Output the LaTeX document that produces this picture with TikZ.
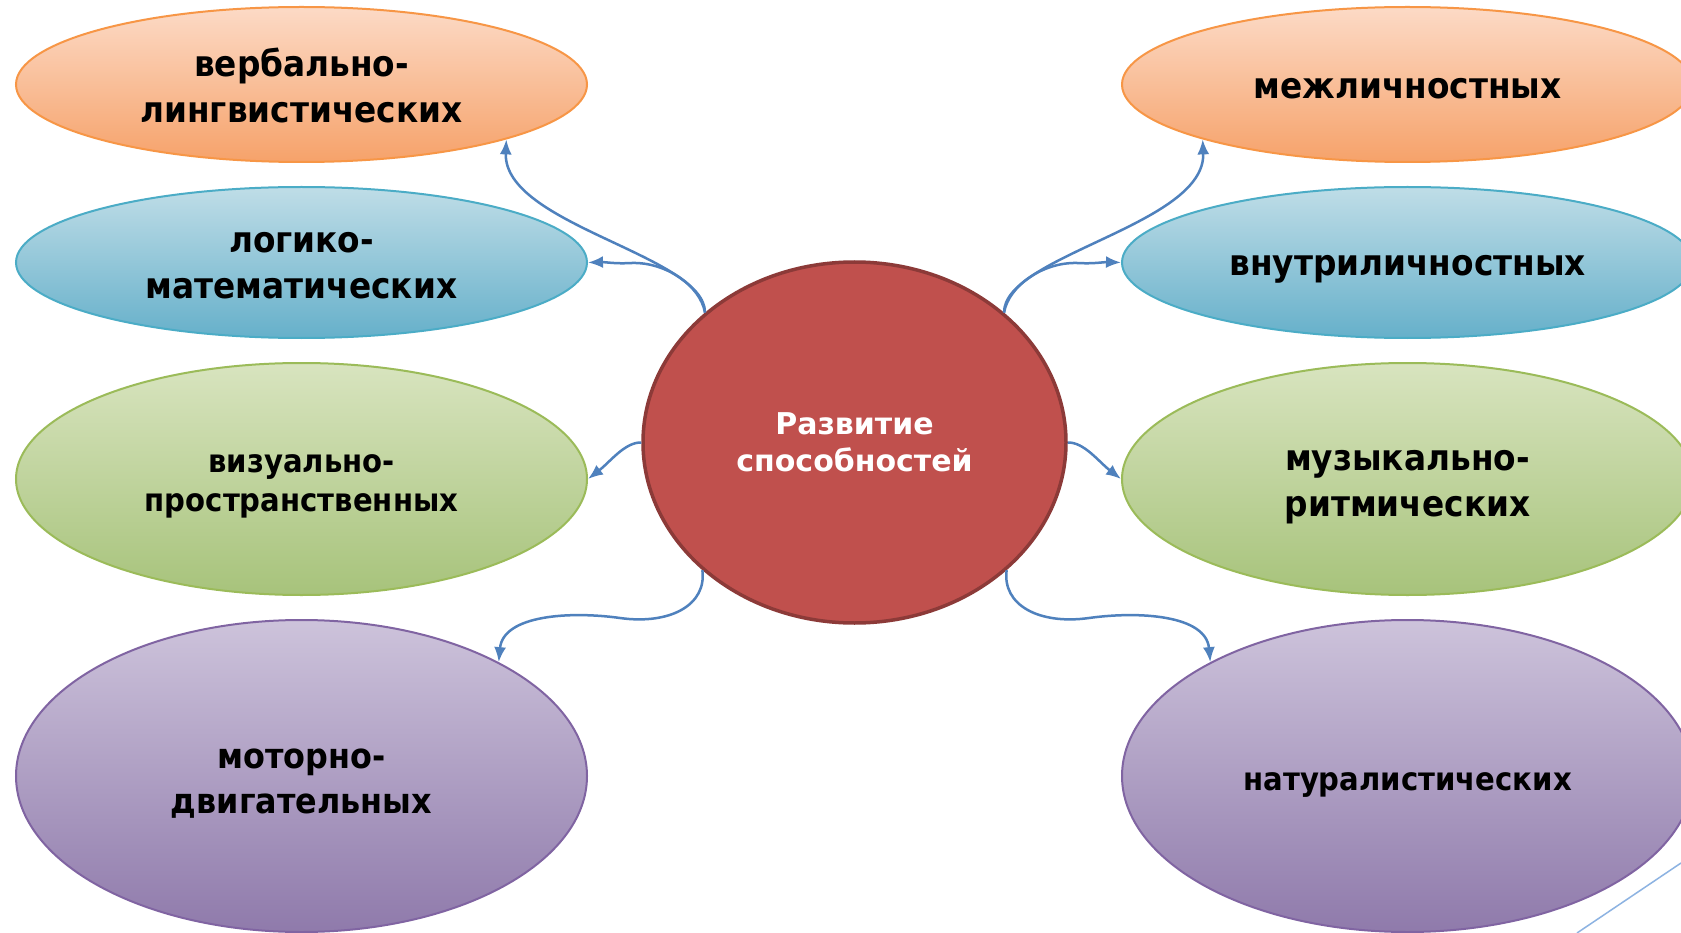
\documentclass[tikz,border=0pt]{standalone}
\usepackage{fontspec}
\setmainfont{DejaVu Sans}
\newfontfamily\bubfont{DejaVu Sans}[FakeStretch=0.91]
\usetikzlibrary{shapes.geometric,arrows.meta}
\definecolor{otop}{HTML}{FCDAC6}
\definecolor{obot}{HTML}{F6A26A}
\definecolor{oline}{HTML}{F79646}
\definecolor{btop}{HTML}{BFDDE7}
\definecolor{bbot}{HTML}{66B0CA}
\definecolor{bline}{HTML}{4BACC6}
\definecolor{gtop}{HTML}{D8E4BF}
\definecolor{gbot}{HTML}{A7C37B}
\definecolor{gline}{HTML}{9BBB59}
\definecolor{ptop}{HTML}{CDC3DB}
\definecolor{pbot}{HTML}{8F7AAB}
\definecolor{pline}{HTML}{8064A2}
\definecolor{redfill}{HTML}{C0504D}
\definecolor{redline}{HTML}{8C3A38}
\definecolor{conn}{HTML}{4F81BD}
\definecolor{deco}{HTML}{8DB3E2}
\begin{document}
\begin{tikzpicture}[x=1pt,y=-1pt,
  bubble/.style={ellipse, line width=2pt, minimum width=571pt, inner sep=0pt},
  txt/.style={inner sep=0pt, align=center, font=\bubfont\bfseries\fontsize{36}{46}\selectfont},
  small/.style={font=\bubfont\bfseries\fontsize{32}{39}\selectfont},
  obub/.style={bubble, draw=oline, top color=otop, bottom color=obot},
  bbub/.style={bubble, draw=bline, top color=btop, bottom color=bbot},
  gbub/.style={bubble, draw=gline, top color=gtop, bottom color=gbot},
  pbub/.style={bubble, draw=pline, top color=ptop, bottom color=pbot},
  hub/.style={ellipse, draw=redline, fill=redfill, line width=3.5pt, minimum width=423pt,
    minimum height=361pt, inner sep=0pt, align=center, text=white,
    font=\bfseries\fontsize{30}{37}\selectfont},
  link/.style={draw=conn, line width=2.5pt, -{Latex[length=15pt,width=12pt]}}
]
\useasboundingbox (0,0) rectangle (1681,933);
\fill[white] (0,0) rectangle (1681,933);

\node[obub, minimum height=155pt] (oL) at (301.5,84.5) {};
\node[bbub, minimum height=151pt] (bL) at (301.5,262.5) {};
\node[gbub, minimum height=232pt] (gL) at (301.5,479) {};
\node[pbub, minimum height=312pt] (pL) at (301.5,776) {};
\node[obub, minimum height=155pt] (oR) at (1407.5,84.5) {};
\node[bbub, minimum height=151pt] (bR) at (1407.5,262.5) {};
\node[gbub, minimum height=232pt] (gR) at (1407.5,479) {};
\node[pbub, minimum height=312pt] (pR) at (1407.5,776) {};

\node[txt, yshift=-1pt] (oLt) at (oL) {вербально-\\лингвистических};
\node[txt, yshift=-3pt] (bLt) at (bL) {логико-\\математических};
\node[txt, small, yshift=-7pt] (gLt) at (gL) {визуально-\\пространственных};
\node[txt, font=\bubfont\bfseries\fontsize{35}{45}\selectfont, yshift=-8pt] (pLt) at (pL) {моторно-\\двигательных};
\node[txt, yshift=-4pt] (oRt) at (oR) {межличностных};
\node[txt, yshift=-7pt] (bRt) at (bR) {внутриличностных};
\node[txt, yshift=-8pt] (gRt) at (gR) {музыкально-\\ритмических};
\node[txt, small, yshift=-9pt] (pRt) at (pR) {натуралистических};

\node[hub] (c) at (854.5,442.5) {Развитие\\способностей};

% left connectors
\draw[link] (c.139) .. controls (705,255) and (503,225) .. (oL.-15.4);
\draw[link] (c.139) .. controls (700,285) and (665,262) .. (632,263) .. controls (615,264) and (606,262) .. (bL.east);
\draw[link] (c.west) .. controls (625,442) and (610,462) .. (gL.east);
\draw[link] (c.220) .. controls (707,605) and (670,625) .. (620,618) .. controls (570,611) and (503,615) .. (pL.30);
% right connectors
\draw[link] (c.41) .. controls (1004,255) and (1206,225) .. (oR.195.4);
\draw[link] (c.41) .. controls (1009,285) and (1044,262) .. (1077,263) .. controls (1094,264) and (1103,262) .. (bR.west);
\draw[link] (c.east) .. controls (1084,442) and (1099,462) .. (gR.west);
\draw[link] (c.320) .. controls (1002,605) and (1039,625) .. (1089,618) .. controls (1139,611) and (1206,615) .. (pR.150);

% slide decoration
\draw[deco, line width=1.5pt] (1681,863) -- (1577,933);
\end{tikzpicture}
\end{document}
